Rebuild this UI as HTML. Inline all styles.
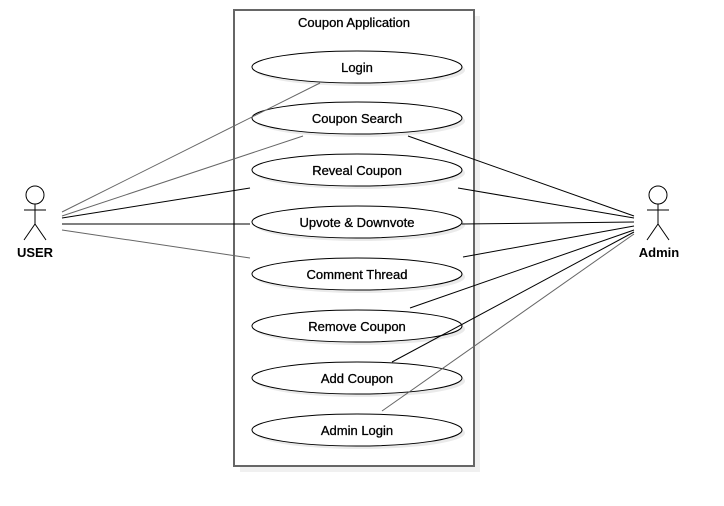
<!DOCTYPE html>
<html><head><style>body{margin:0;background:#fff}svg{display:block}</style></head><body>
<svg width="724" height="506" xmlns="http://www.w3.org/2000/svg" font-family="Liberation Sans, sans-serif">
<rect x="240" y="16" width="240" height="456" fill="#f0f0f0"/>
<rect x="234" y="10" width="240" height="456" fill="#fff" stroke="#666" stroke-width="2"/>
<text x="354" y="27" font-size="13" text-anchor="middle" stroke="#000" stroke-width="0.3">Coupon Application</text>
<g fill="#eaeaea" stroke="none">
<ellipse cx="360" cy="70" rx="105" ry="16"/>
<ellipse cx="360" cy="121" rx="105" ry="16"/>
<ellipse cx="360" cy="173" rx="105" ry="16"/>
<ellipse cx="360" cy="225" rx="105" ry="16"/>
<ellipse cx="360" cy="277" rx="105" ry="16"/>
<ellipse cx="360" cy="329" rx="105" ry="16"/>
<ellipse cx="360" cy="381" rx="105" ry="16"/>
<ellipse cx="360" cy="433" rx="105" ry="16"/>
</g>
<g fill="#fff" stroke="#000" stroke-width="1">
<ellipse cx="357" cy="67" rx="105" ry="16"/>
<ellipse cx="357" cy="118" rx="105" ry="16"/>
<ellipse cx="357" cy="170" rx="105" ry="16"/>
<ellipse cx="357" cy="222" rx="105" ry="16"/>
<ellipse cx="357" cy="274" rx="105" ry="16"/>
<ellipse cx="357" cy="326" rx="105" ry="16"/>
<ellipse cx="357" cy="378" rx="105" ry="16"/>
<ellipse cx="357" cy="430" rx="105" ry="16"/>
</g>
<g font-size="13" text-anchor="middle" stroke="#000" stroke-width="0.3">
<text x="357" y="72">Login</text>
<text x="357" y="123">Coupon Search</text>
<text x="357" y="175">Reveal Coupon</text>
<text x="357" y="227">Upvote &amp; Downvote</text>
<text x="357" y="279">Comment Thread</text>
<text x="357" y="331">Remove Coupon</text>
<text x="357" y="383">Add Coupon</text>
<text x="357" y="435">Admin Login</text>
</g>
<g stroke-width="1" fill="none">
<line x1="62" y1="212" x2="320" y2="83" stroke="#666"/>
<line x1="62" y1="216" x2="303" y2="136" stroke="#666"/>
<line x1="62" y1="218" x2="250" y2="188" stroke="#000"/>
<line x1="62" y1="224" x2="250" y2="224" stroke="#000"/>
<line x1="62" y1="230" x2="250" y2="258" stroke="#666"/>
<line x1="408" y1="136" x2="634" y2="216" stroke="#000"/>
<line x1="458" y1="188" x2="634" y2="218" stroke="#000"/>
<line x1="462" y1="224" x2="634" y2="222" stroke="#000"/>
<line x1="463" y1="257" x2="634" y2="226" stroke="#000"/>
<line x1="410" y1="308" x2="634" y2="230" stroke="#000"/>
<line x1="392" y1="362" x2="634" y2="232" stroke="#000"/>
<line x1="382" y1="411" x2="634" y2="234" stroke="#666"/>
</g>
<g stroke="#000" fill="#fff" stroke-width="1">
<circle cx="35" cy="195" r="9"/>
<path d="M35 204V224M24 210H46M35 224L24 240M35 224L46 240" fill="none"/>
<circle cx="658" cy="195" r="9"/>
<path d="M658 204V224M647 210H669M658 224L647 240M658 224L669 240" fill="none"/>
</g>
<text x="35" y="257" font-size="13" font-weight="bold" text-anchor="middle">USER</text>
<text x="659" y="257" font-size="13" font-weight="bold" text-anchor="middle">Admin</text>
</svg>
</body></html>
